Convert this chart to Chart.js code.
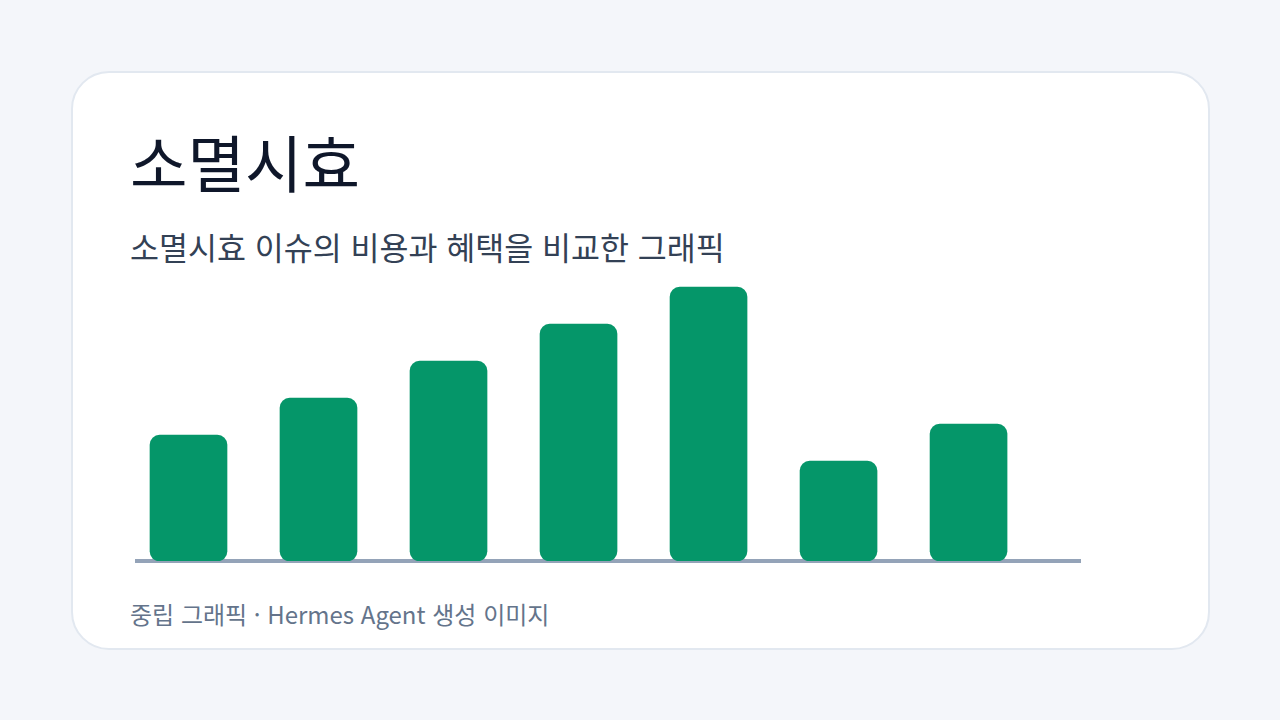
<!DOCTYPE html>
<html lang="ko">
<head>
  <meta charset="UTF-8">
  <title>소멸시효</title>
  <script src="https://cdn.jsdelivr.net/npm/chart.js"></script>
  <style>
    body {
      margin: 0;
      width: 1280px;
      height: 720px;
      background: #f4f6fa;
      font-family: "Noto Sans CJK KR", "Noto Sans", sans-serif;
      position: relative;
      overflow: hidden;
    }
    .card {
      position: absolute;
      left: 71px;
      top: 71px;
      width: 1135px;
      height: 575px;
      background: #fff;
      border: 2px solid #e2e8f0;
      border-radius: 38px;
    }
    .title, .sub, .foot {
      position: absolute;
      left: 130px;
      line-height: 1;
      white-space: nowrap;
    }
    .title { top: 130px; font-size: 62.5px; color: #0f172a; }
    .sub { top: 231px; font-size: 31.5px; color: #334155; }
    .foot { top: 602px; font-size: 24px; color: #64748b; }
    .chart-box {
      position: absolute;
      left: 135px;
      top: 265px;
      width: 946px;
      height: 300px;
    }
  </style>
</head>
<body>
  <div class="card"></div>
  <div class="title">소멸시효</div>
  <div class="sub">소멸시효 이슈의 비용과 혜택을 비교한 그래픽</div>
  <div class="foot">중립 그래픽 · Hermes Agent 생성 이미지</div>
  <div class="chart-box"><canvas id="chart"></canvas></div>

  <script>
    // 7개 항목 (라벨 없음), 값은 그림에서 읽음
    const categories = [0, 1, 2, 3, 4, 5, 6];
    const values = [34, 44, 54, 64, 74, 27, 37];

    new Chart(document.getElementById('chart'), {
      type: 'bar',
      data: {
        datasets: [{
          data: categories.map((c, i) => ({ x: c, y: values[i] })),
          backgroundColor: '#059669',
          borderRadius: 10,
          borderSkipped: false,
          barThickness: 77
        }]
      },
      options: {
        responsive: true,
        maintainAspectRatio: false,
        animation: false,
        layout: { padding: { bottom: 4 } },
        plugins: { legend: { display: false }, tooltip: { enabled: false } },
        scales: {
          x: {
            type: 'linear',
            min: -0.4115,
            max: 6.865,
            offset: false,
            z: 1,
            grid: { display: false, drawTicks: false },
            ticks: { display: false, padding: 0 },
            border: { display: true, color: '#94a3b8', width: 4 }
          },
          y: {
            display: false,
            min: 0,
            max: 80
          }
        }
      }
    });
  </script>
</body>
</html>
